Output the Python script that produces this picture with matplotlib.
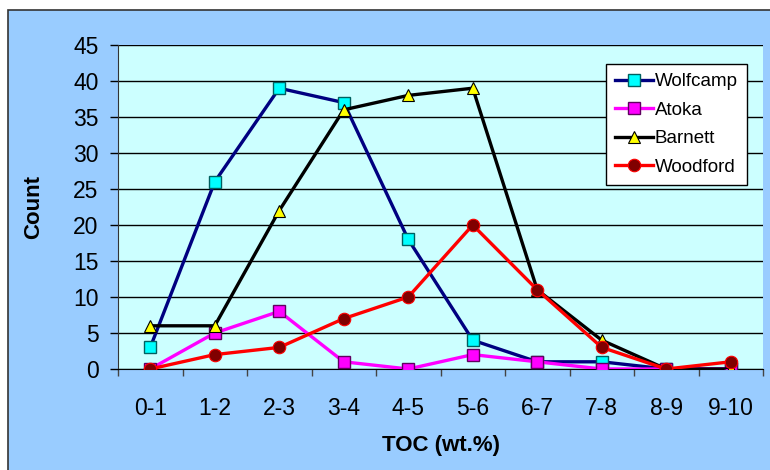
import matplotlib
matplotlib.use("Agg")
import matplotlib.pyplot as plt
from matplotlib.patches import Rectangle
import numpy as np

categories = ["0-1", "1-2", "2-3", "3-4", "4-5", "5-6", "6-7", "7-8", "8-9", "9-10"]
wolfcamp = [3, 26, 39, 37, 18, 4, 1, 1, 0, 0]
atoka = [0, 5, 8, 1, 0, 2, 1, 0, 0, 0]
barnett = [6, 6, 22, 36, 38, 39, 11, 4, 0, 0]
woodford = [0, 2, 3, 7, 10, 20, 11, 3, 0, 1]
y_ticks = [0, 5, 10, 15, 20, 25, 30, 35, 40, 45]

plt.rcParams['font.family'] = ['Liberation Sans', 'DejaVu Sans']

fig = plt.figure(figsize=(7.7, 4.7), dpi=100)
fig.patch.set_facecolor("white")
bg = Rectangle((8/770, -0.1), 1.1, 1.1 - 10/470, transform=fig.transFigure,
               facecolor="#99CCFF", edgecolor="#333333", linewidth=1.2, zorder=-10)
fig.patches.append(bg)

ax = fig.add_axes([118/770, 1 - 369/470, (763-118)/770, (369-45)/470])
ax.set_facecolor("#CCFFFF")
x = np.arange(len(categories))

ax.plot(x, wolfcamp, color="#000080", lw=2.4, marker="s", ms=8,
        mfc="#00FFFF", mec="#006060", mew=1, label="Wolfcamp", zorder=3)
ax.plot(x, atoka, color="#FF00FF", lw=2.4, marker="s", ms=8,
        mfc="#FF00FF", mec="#600060", mew=1, label="Atoka", zorder=4)
ax.plot(x, barnett, color="#000000", lw=2.4, marker="^", ms=8,
        mfc="#FFFF00", mec="#000000", mew=0.8, label="Barnett", zorder=5)
ax.plot(x, woodford, color="#FF0000", lw=2.4, marker="o", ms=9,
        mfc="#800000", mec="#FF0000", mew=0.8, label="Woodford", zorder=6)

ax.set_xlim(-0.5, len(categories) - 0.5)
ax.set_ylim(0, 45)
ax.set_yticks(y_ticks)
ax.yaxis.grid(True, color="black", lw=1)
ax.set_axisbelow(True)

ax.set_xticks(x)
ax.set_xticklabels(categories)
ax.set_xticks(np.arange(len(categories) + 1) - 0.5, minor=True)
ax.tick_params(axis="x", which="major", length=0, pad=20, labelsize=16.5)
ax.tick_params(axis="x", which="minor", length=5, width=1, direction="out", color="#444444")
ax.tick_params(axis="y", which="major", length=6, width=1, direction="out", labelsize=16.5, pad=8)

for s in ["top", "right"]:
    ax.spines[s].set_visible(False)
ax.spines["left"].set_color("#333333")
ax.spines["bottom"].set_color("black")

ax.set_ylabel("Count", fontsize=16, fontweight="bold", labelpad=21)
ax.set_xlabel("TOC (wt.%)", fontsize=16, fontweight="bold", labelpad=11)

leg = ax.legend(loc="upper right", bbox_to_anchor=(747/770, 1 - 64/470),
                bbox_transform=fig.transFigure, fontsize=13.5, frameon=True,
                fancybox=False, edgecolor="black", framealpha=1,
                handlelength=2.0, labelspacing=0.6, borderpad=0.5, handletextpad=0.1,
                borderaxespad=0)
leg.get_frame().set_linewidth(1)

fig.savefig("out.png", dpi=100, facecolor=fig.get_facecolor())
